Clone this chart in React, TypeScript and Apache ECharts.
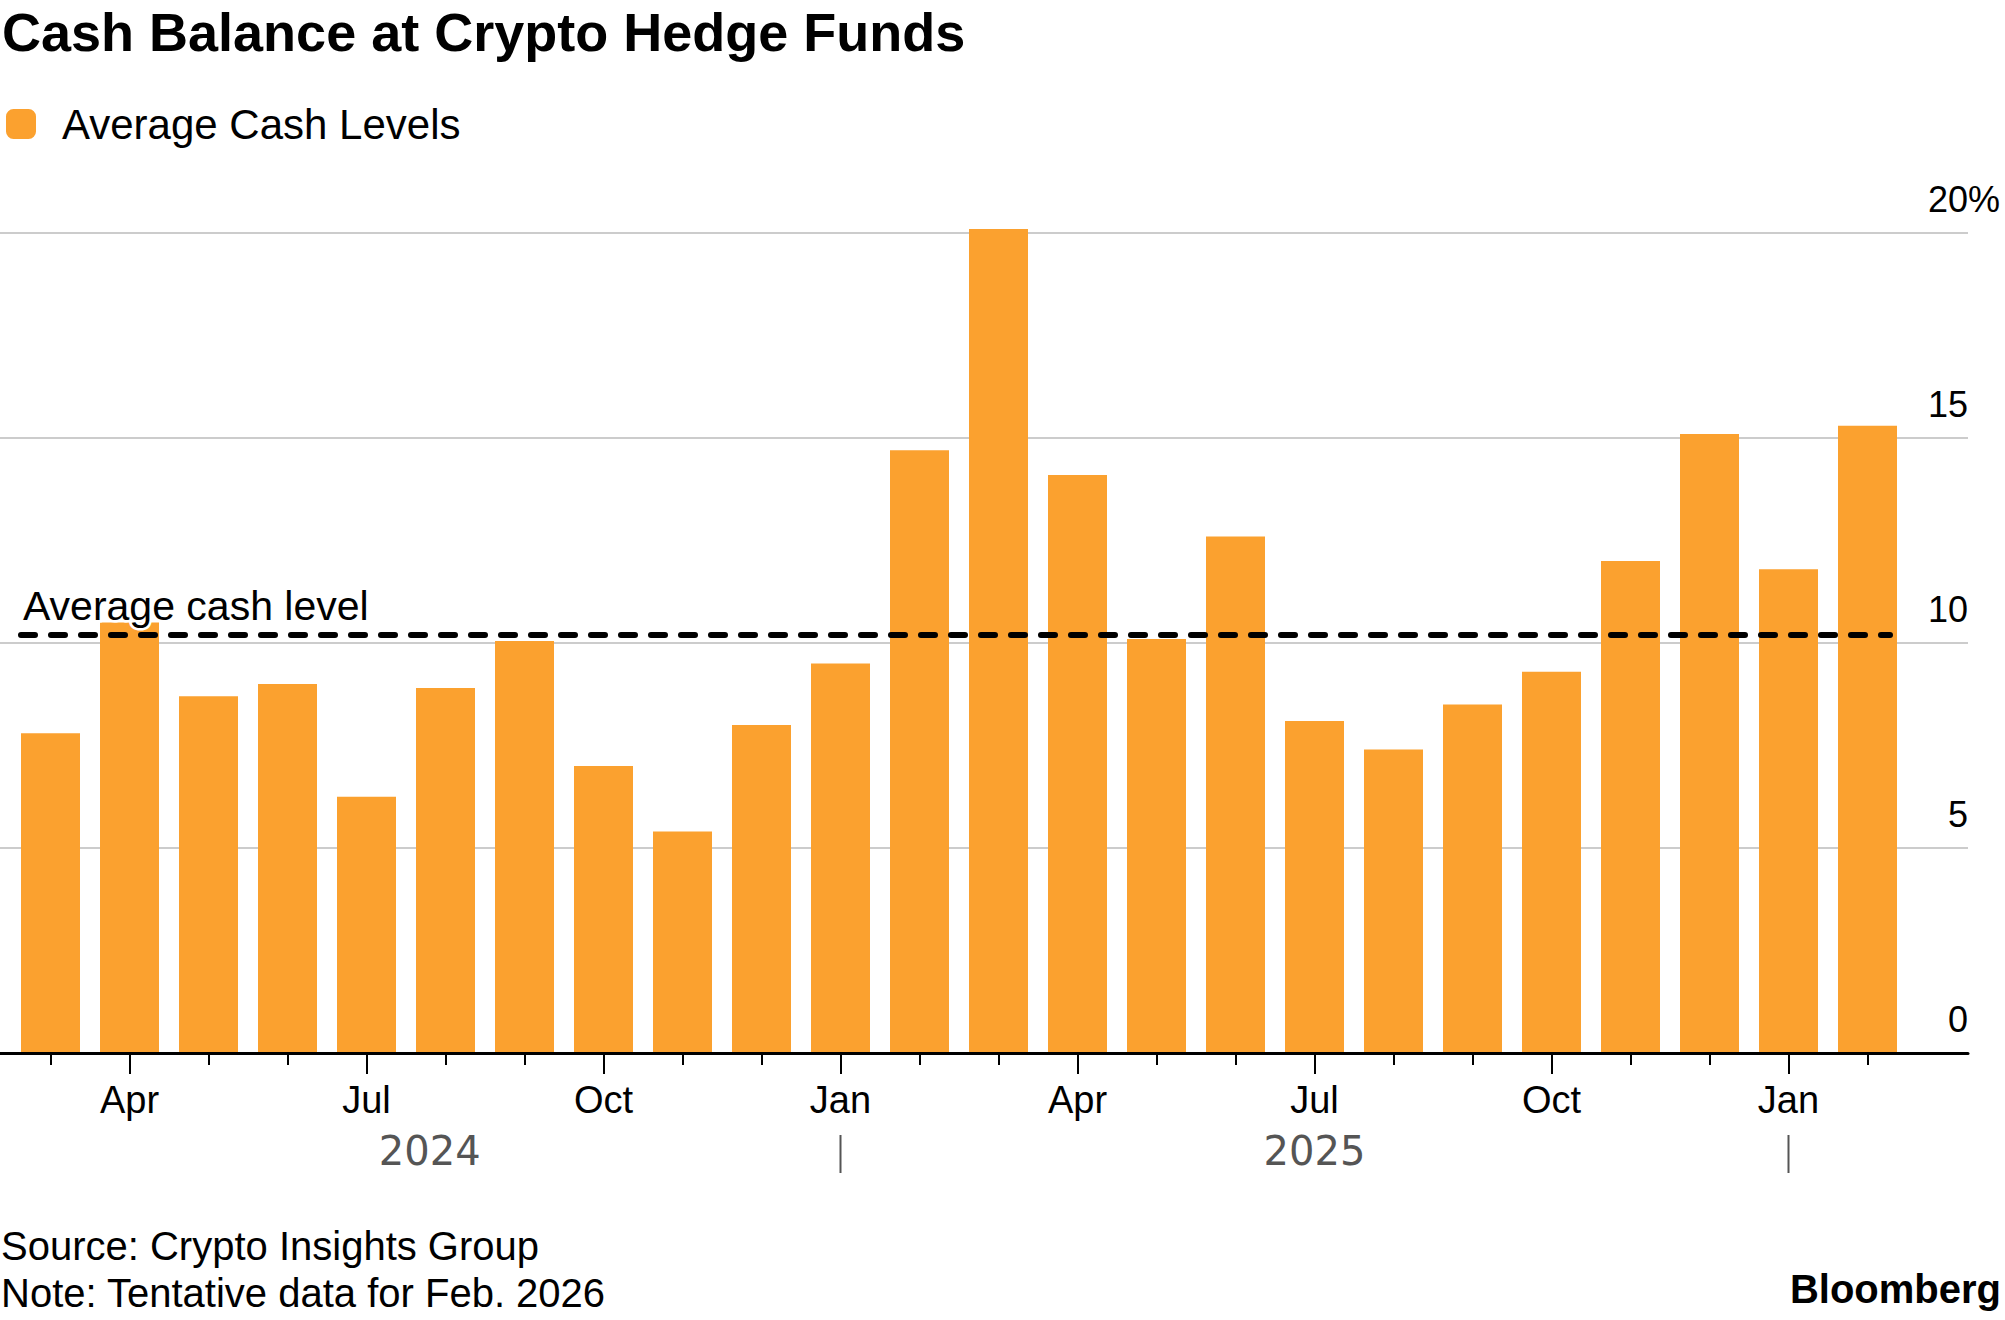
import React, { useEffect, useRef } from "react";
import * as echarts from "echarts";

// ---- Data ----
const months: string[] = [
  "2024-03", "2024-04", "2024-05", "2024-06", "2024-07", "2024-08",
  "2024-09", "2024-10", "2024-11", "2024-12", "2025-01", "2025-02",
  "2025-03", "2025-04", "2025-05", "2025-06", "2025-07", "2025-08",
  "2025-09", "2025-10", "2025-11", "2025-12", "2026-01", "2026-02",
];
const cashLevels: number[] = [
  7.8, 10.5, 8.7, 9.0, 6.25, 8.9,
  10.05, 7.0, 5.4, 8.0, 9.5, 14.7,
  20.1, 14.1, 10.1, 12.6, 8.1, 7.4,
  8.5, 9.3, 12.0, 15.1, 11.8, 15.3,
];
const averageCash = 10.2;
const yTicks: number[] = [0, 5, 10, 15, 20];
const monthNames: string[] = ["Jan", "Feb", "Mar", "Apr", "May", "Jun", "Jul", "Aug", "Sep", "Oct", "Nov", "Dec"];
const yearLabels: string[] = ["2024", "2025"];
const yearBreaks: string[] = ["2025-01", "2026-01"];

const seriesName = "Average Cash Levels";
const titleText = "Cash Balance at Crypto Hedge Funds";
const sourceText = "Source: Crypto Insights Group";
const noteText = "Note: Tentative data for Feb. 2026";
const markLabel = "Average cash level";

const FONT = "'Liberation Sans', Arial, Helvetica, sans-serif";
const ORANGE = "#FBA12F";

const monthOf = (c: string) => parseInt(c.slice(5), 10);
const isQuarter = (c: string) => [1, 4, 7, 10].includes(monthOf(c));

export default function App() {
  const ref = useRef<HTMLDivElement>(null);

  useEffect(() => {
    const chart = echarts.init(ref.current!, null, { renderer: "svg" });

    const staticGraphic: any[] = [
      {
        id: "title", type: "text", x: 2, y: 32,
        style: {
          text: titleText, fill: "#000", fontFamily: FONT, fontSize: 54, fontWeight: "bold",
          align: "left", verticalAlign: "middle", textAlign: "left", textVerticalAlign: "middle",
        },
      },
      {
        id: "source", type: "text", x: 1, y: 1246,
        style: {
          text: sourceText, fill: "#000", fontFamily: FONT, fontSize: 40,
          align: "left", verticalAlign: "middle", textAlign: "left", textVerticalAlign: "middle",
        },
      },
      {
        id: "note", type: "text", x: 1, y: 1293,
        style: {
          text: noteText, fill: "#000", fontFamily: FONT, fontSize: 40,
          align: "left", verticalAlign: "middle", textAlign: "left", textVerticalAlign: "middle",
        },
      },
      {
        id: "logo", type: "text", x: 2001, y: 1289,
        style: {
          text: "Bloomberg", fill: "#000", fontFamily: FONT, fontSize: 40, fontWeight: "bold",
          align: "right", verticalAlign: "middle", textAlign: "right", textVerticalAlign: "middle",
        },
      },
    ];

    const tickLine = { color: "#000", width: 2 };

    const option: any = {
      animation: false,
      backgroundColor: "#ffffff",
      textStyle: { fontFamily: FONT },
      legend: {
        show: true,
        left: 6,
        top: 103,
        padding: 0,
        itemWidth: 30,
        itemHeight: 30,
        icon: "roundRect",
        selectedMode: false,
        data: [seriesName],
        itemStyle: { borderWidth: 0 },
        textStyle: { fontSize: 42, lineHeight: 42, color: "#000", fontFamily: FONT, padding: [0, 0, 0, 21] },
      },
      grid: [
        { left: 0, right: 37, top: 233, bottom: 267, containLabel: false },
        { left: 11, right: 98, top: 233, bottom: 267, containLabel: false },
        { left: 21, right: 115, top: 233, bottom: 267, containLabel: false },
      ],
      xAxis: [
        {
          gridIndex: 0, type: "value", min: 0, max: 1, z: 5, position: "bottom",
          axisLine: { show: true, onZero: false, lineStyle: { color: "#000", width: 3 } },
          axisTick: { show: false }, axisLabel: { show: false }, splitLine: { show: false },
        },
        {
          gridIndex: 1, type: "category", data: months, position: "bottom",
          axisLine: { show: false, onZero: false },
          axisTick: { show: true, alignWithLabel: true, interval: 0, length: 12, lineStyle: tickLine },
          axisLabel: { show: false }, splitLine: { show: false },
        },
        {
          gridIndex: 1, type: "category", data: months, position: "bottom", offset: 0,
          axisLine: { show: false, onZero: false },
          axisTick: {
            show: true, alignWithLabel: true, length: 21, lineStyle: tickLine,
            interval: (_i: number, v: string) => isQuarter(v),
          },
          axisLabel: {
            show: true,
            interval: (_i: number, v: string) => isQuarter(v),
            formatter: (v: string) => monthNames[monthOf(v) - 1],
            fontSize: 38, lineHeight: 38, color: "#000", fontFamily: FONT, margin: 28,
          },
          splitLine: { show: false },
        },
        {
          gridIndex: 2, type: "value", min: 0, max: 1, show: false, position: "bottom",
        },
      ],
      yAxis: [
        {
          gridIndex: 0, type: "value", min: 0, max: 20, interval: 5, position: "right",
          axisLine: { show: false }, axisTick: { show: false },
          splitLine: { show: true, lineStyle: { color: "#cccccc", width: 2 } },
          axisLabel: {
            show: true, margin: 0, align: "right", verticalAlign: "bottom",
            fontSize: 36, lineHeight: 36, color: "#000", fontFamily: FONT,
            padding: [0, 0, 16, 0],
            formatter: (v: number) => (yTicks.includes(v) ? String(v) : ""),
          },
        },
        {
          gridIndex: 0, type: "value", min: 0, max: 20, interval: 5, position: "right",
          axisLine: { show: false }, axisTick: { show: false }, splitLine: { show: false },
          axisLabel: {
            show: true, margin: 0, align: "left", verticalAlign: "bottom",
            fontSize: 36, lineHeight: 36, color: "#000", fontFamily: FONT,
            padding: [0, 0, 16, 0],
            formatter: (v: number) => (v === 20 ? "%" : ""),
          },
        },
        { gridIndex: 1, type: "value", min: 0, max: 20, interval: 5, show: false },
        { gridIndex: 2, type: "value", min: 0, max: 20, interval: 5, show: false },
      ],
      series: [
        {
          type: "bar",
          name: seriesName,
          xAxisIndex: 2,
          yAxisIndex: 2,
          data: cashLevels,
          barWidth: 59,
          clip: false,
          itemStyle: { color: ORANGE },
          emphasis: { disabled: true },
        },
        {
          type: "line",
          name: markLabel,
          xAxisIndex: 3,
          yAxisIndex: 3,
          data: [],
          z: 4,
          markLine: {
            silent: true,
            symbol: ["none", "none"],
            data: [{ yAxis: averageCash }],
            lineStyle: { color: "#000", width: 6, type: [14, 16], cap: "round" },
            emphasis: { disabled: true },
            label: {
              show: true,
              position: "insideStartTop",
              formatter: markLabel,
              fontSize: 41, lineHeight: 41, color: "#000", fontFamily: FONT,
              textBorderColor: "#fff", textBorderWidth: 5,
              distance: [2, 8],
            },
          },
        },
      ],
      graphic: staticGraphic,
    };

    chart.setOption(option);

    const px = (c: string) => chart.convertToPixel({ xAxisIndex: 2 }, c) as number;
    const gridLeft = 11;
    const b0 = px(yearBreaks[0]);
    const b1 = px(yearBreaks[1]);
    const yearCenters = [(gridLeft + b0) / 2 + 4, (b0 + b1) / 2];

    const yearGraphic: any[] = [];
    yearBreaks.forEach((c, i) => {
      const x = px(c);
      yearGraphic.push({
        id: "ysep" + i, type: "line",
        shape: { x1: x, y1: 1135, x2: x, y2: 1173 },
        style: { stroke: "#555", lineWidth: 2 },
      });
    });
    yearLabels.forEach((t, i) => {
      yearGraphic.push({
        id: "ylab" + i, type: "text", x: yearCenters[i], y: 1151,
        style: {
          text: t, fill: "#555", fontFamily: "'DejaVu Sans', sans-serif", fontSize: 40,
          align: "center", verticalAlign: "middle", textAlign: "center", textVerticalAlign: "middle",
        },
      });
    });

    chart.setOption({ graphic: [...staticGraphic, ...yearGraphic] });

    return () => chart.dispose();
  }, []);

  return (
    <div
      ref={ref}
      style={{ position: "absolute", left: 0, top: 0, width: 2005, height: 1320, background: "#fff" }}
    />
  );
}
